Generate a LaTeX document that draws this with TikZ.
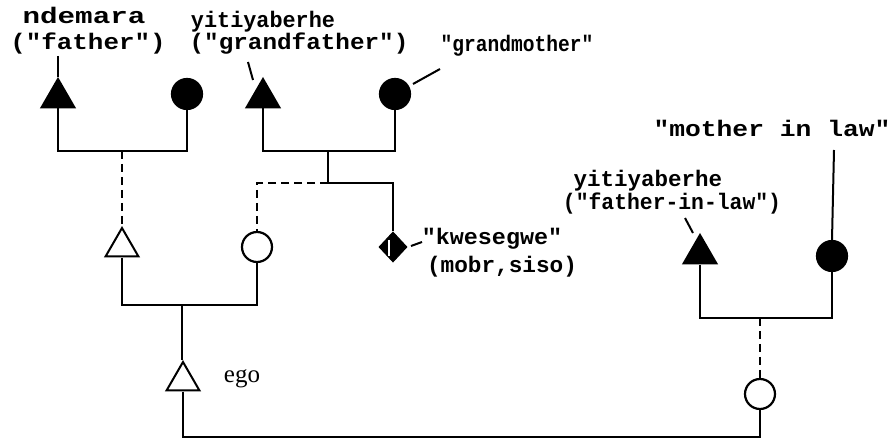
\documentclass[tikz,border=0pt]{standalone}
\usepackage{fontspec}
\usepackage{graphicx}
\usetikzlibrary{shapes.geometric}
\newfontfamily\twfont{Liberation Mono}[BoldFont={Liberation Mono Bold}]
\newfontfamily\egofont{Liberation Serif}
\newcommand{\mylab}[2]{\scalebox{#1}[1]{#2}}
\begin{document}
\begin{tikzpicture}[x=1pt,y=1pt,
  line width=2.2pt,
  kin/.style={line width=2.2pt},
  dashkin/.style={line width=2.2pt, dash pattern=on 8pt off 5pt},
  male/.style={regular polygon, regular polygon sides=3, minimum size=38pt, inner sep=0pt, draw=black, line width=2pt},
  fem/.style={circle, minimum size=30pt, inner sep=0pt, draw=black, line width=2.2pt},
  dead/.style={fill=black},
  alive/.style={fill=white},
  either/.style={diamond, minimum width=28pt, minimum height=30pt, inner sep=0pt, fill=black, draw=black, line width=1pt},
  lab/.style={font=\twfont\bfseries\fontsize{22.5}{24}\selectfont, inner sep=0pt, anchor=base},
  egolab/.style={font=\egofont\fontsize{25}{27}\selectfont, inner sep=0pt, anchor=base},
  leader/.style={line width=2pt}
]
\useasboundingbox (0,0) rectangle (892,-446);

% ---- people ----
\node[male, dead]  (T1) at (58,-98) {};
\node[fem,  dead]  (C1) at (187,-94) {};
\node[male, dead]  (T3) at (263,-98) {};
\node[fem,  dead]  (C4) at (395,-94) {};
\node[male, alive] (T2) at (122,-247) {};
\node[fem,  alive] (C2) at (257,-247) {};
\node[either]      (D)  at (393,-247) {};
\node[male, alive] (E)  at (183,-381) {};
\node[male, dead]  (T5) at (700,-254) {};
\node[fem,  dead]  (C5) at (832,-256) {};
\node[fem,  alive] (C3) at (760,-394) {};

% white mark in diamond
\draw[white, line width=1.6pt] (389,-240) -- (389,-256);

% ---- junction points ----
\coordinate (h1) at (122,-151);
\coordinate (h2) at (328,-151);
\coordinate (h3) at (328,-183);
\coordinate (h4) at (182,-305);
\coordinate (h5) at (760,-318);
\coordinate (b)  at (183,-437);

% ---- connectors ----
\draw[kin] (T1.south) |- (h1) -| (C1.south);
\draw[dashkin] (h1) -- (T2.north);
\draw[kin] (T3.south) |- (h2) -| (C4.south);
\draw[kin] (h2) -- (h3);
\draw[dashkin] (h3) -| (C2.north);
\draw[kin] (h3) -| (D.north);
\draw[kin] (T2.south) |- (h4) -| (C2.south);
\draw[kin] (h4) -- (h4 |- E.north);
\draw[kin] (E.south) -- (b) -| (C3.south);
\draw[kin] (T5.south) |- (h5) -| (C5.south);
\draw[dashkin] (h5) -- (C3.north);

% ---- labels ----
\node[lab] (l1) at (84,-24)  {\mylab{1.3}{ndemara}};
\node[lab] (l2) at (88,-50)  {\mylab{1.15}{("father")}};
\node[lab] (l3) at (263,-28) {\mylab{0.97}{yitiyaberhe}};
\node[lab] (l4) at (299,-50) {\mylab{1.08}{("grandfather")}};
\node[lab] (l5) at (517,-52) {\mylab{0.87}{"grandmother"}};
\node[lab] (l6) at (772,-137) {\mylab{1.17}{"mother in law"}};
\node[lab] (l7) at (648,-187) {\mylab{1.0}{yitiyaberhe}};
\node[lab] (l8) at (672,-210) {\mylab{0.95}{("father-in-law")}};
\node[lab] (l9) at (492,-245) {\mylab{1.04}{"kwesegwe"}};
\node[lab] (l10) at (502,-273) {\mylab{1.01}{(mobr,siso)}};
\node[egolab] (l11) at (242,-382) {ego};

% ---- leader lines ----
\coordinate (a1) at (58,-56);
\draw[leader] (a1) -- (T1.north);
\coordinate (a2) at (248,-62);
\coordinate (a3) at (253,-80);
\draw[leader] (a2) -- (a3);
\coordinate (a4) at (413,-84);
\coordinate (a5) at (440,-69);
\draw[leader] (a4) -- (a5);
\coordinate (a6) at (685,-218);
\coordinate (a7) at (693,-233);
\draw[leader] (a6) -- (a7);
\coordinate (a8) at (834,-150);
\draw[leader] (a8) -- (C5.north);
\coordinate (a9) at (411,-246);
\coordinate (a10) at (422,-242);
\draw[leader] (a9) -- (a10);
\end{tikzpicture}
\end{document}
